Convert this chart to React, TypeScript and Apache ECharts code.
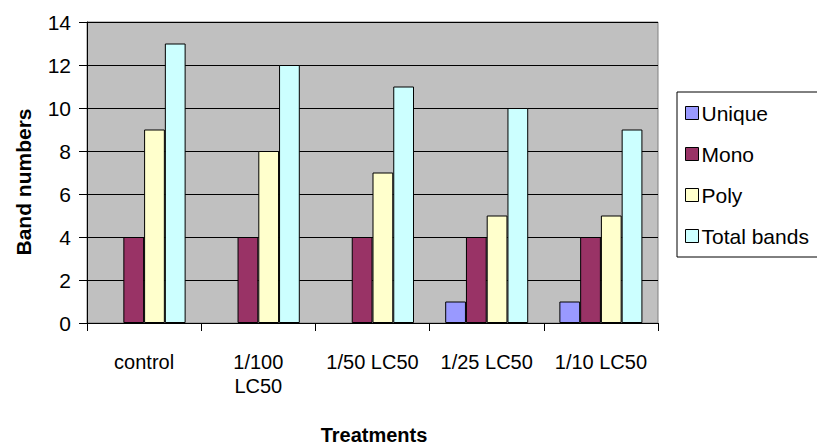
import React, { useEffect, useRef } from "react";
import * as echarts from "echarts";

const categories = ["control", "1/100 LC50", "1/50 LC50", "1/25 LC50", "1/10 LC50"];
const uniqueVals = [0, 0, 0, 1, 1];
const monoVals = [4, 4, 4, 4, 4];
const polyVals = [9, 8, 7, 5, 5];
const totalVals = [13, 12, 11, 10, 9];
const seriesNames = ["Unique", "Mono", "Poly", "Total bands"];
const seriesColors = ["#9999FF", "#993366", "#FFFFCC", "#CCFFFF"];

const FONT = "Liberation Sans, Arial, sans-serif";

export default function App() {
  const ref = useRef<HTMLDivElement>(null);
  useEffect(() => {
    if (!ref.current) return;
    const chart = echarts.init(ref.current, null, { renderer: "svg" });
    const data = [uniqueVals, monoVals, polyVals, totalVals];
    chart.setOption({
      animation: false,
      backgroundColor: "#FFFFFF",
      textStyle: { fontFamily: FONT },
      grid: {
        left: 87,
        right: 159,
        top: 22,
        bottom: 125,
        show: true,
        backgroundColor: "#C0C0C0",
        borderColor: "#808080",
        borderWidth: 1,
      },
      legend: {
        orient: "vertical",
        left: 677,
        top: 92,
        padding: [10, 12, 10, 8],
        itemGap: 19,
        itemWidth: 13,
        itemHeight: 13,
        icon: "rect",
        backgroundColor: "#FFFFFF",
        borderColor: "#000000",
        borderWidth: 1,
        borderRadius: 0,
        itemStyle: { borderColor: "#000000", borderWidth: 1 },
        textStyle: { fontFamily: FONT, fontSize: 21, color: "#000", lineHeight: 22, padding: [0, 0, 0, -2] },
        data: seriesNames,
      },
      xAxis: {
        type: "category",
        data: categories,
        boundaryGap: true,
        axisLine: { lineStyle: { color: "#000", width: 1 } },
        axisTick: { show: true, length: 8, interval: 0, lineStyle: { color: "#000" } },
        axisLabel: {
          interval: 0,
          margin: 27,
          fontFamily: FONT,
          fontSize: 20,
          color: "#000",
          lineHeight: 24,
          formatter: (v: string) => (v === "1/100 LC50" ? "1/100\nLC50" : v),
        },
      },
      yAxis: {
        type: "value",
        min: 0,
        max: 14,
        interval: 2,
        axisLine: { show: true, lineStyle: { color: "#000", width: 1 } },
        axisTick: { show: true, length: 8, lineStyle: { color: "#000" } },
        axisLabel: { margin: 16, fontFamily: FONT, fontSize: 21, color: "#000" },
        splitLine: { show: true, lineStyle: { color: "#000", width: 1 } },
      },
      graphic: [
        {
          type: "text",
          x: 23,
          y: 182,
          rotation: Math.PI / 2,
          style: {
            text: "Band numbers",
            align: "center",
            verticalAlign: "middle",
            font: `bold 21px ${FONT}`,
            fill: "#000",
          },
        },
        {
          type: "text",
          x: 374,
          y: 435,
          style: {
            text: "Treatments",
            align: "center",
            verticalAlign: "middle",
            font: `bold 20px ${FONT}`,
            fill: "#000",
          },
        },
      ],
      series: seriesNames.map((name, i) => ({
        name,
        type: "bar",
        data: data[i].map((v) => (v === 0 ? "-" : v)),
        barGap: "0%",
        barCategoryGap: "27.3%",
        itemStyle: { color: seriesColors[i], borderColor: "#000", borderWidth: 1 },
      })),
    });
    return () => chart.dispose();
  }, []);
  return <div ref={ref} style={{ width: 817, height: 448, position: "absolute", left: 0, top: 0 }} />;
}
